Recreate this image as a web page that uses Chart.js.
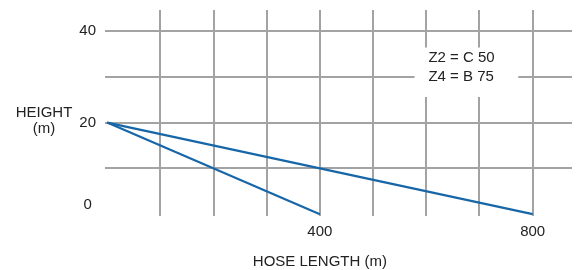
<!DOCTYPE html>
<html>
<head>
<meta charset="utf-8">
<script src="https://cdn.jsdelivr.net/npm/chart.js@4"></script>
<style>
  html, body { margin: 0; padding: 0; background: #fff; }
  #wrap { width: 576px; height: 270px; }
</style>
</head>
<body>
<div id="wrap"><canvas id="graph_1"></canvas></div>
<script>
// data
const hoseLengths = [0, 400, 800];
const heightZ2 = [20, 0];       // 0 -> 400 m
const heightZ4 = [20, 10, 0];   // 0 -> 400 -> 800 m
const yTickLabels = [0, 20, 40];
const xTickLabels = [400, 800];
const noteLines = ["Z2 = C 50", "Z4 = B 75"];

const FONT = "'Liberation Sans', Arial, sans-serif";
const GRID = "#a3a3a3";
const BLUE = "#1766a8";

const ctx = document.getElementById("graph_1");

// white box with the Z2/Z4 note + axis titles
const extras = {
  id: "extras",
  afterDraw(chart) {
    const c = chart.ctx;
    const x = chart.scales.x, y = chart.scales.y;
    c.save();
    // note box
    const bx = x.getPixelForValue(578), by = y.getPixelForValue(36.4);
    const bx2 = x.getPixelForValue(773), by2 = y.getPixelForValue(25.6);
    c.fillStyle = "#fff";
    c.fillRect(bx, by, bx2 - bx, by2 - by);
    c.fillStyle = "#222";
    c.font = "15px " + FONT;
    c.textAlign = "left";
    c.textBaseline = "middle";
    noteLines.forEach((t, i) => c.fillText(t, x.getPixelForValue(604), y.getPixelForValue(34.2) + i * 19));
    // y title
    c.textAlign = "center";
    c.fillText("HEIGHT", 44, 113);
    c.fillText("(m)", 44, 129);
    // x title
    c.fillText("HOSE LENGTH (m)", x.getPixelForValue(400), 262);
    c.restore();
  },
};

new Chart(ctx, {
  type: "line",
  data: {
    datasets: [
      {
        label: "Z2",
        data: heightZ2.map((v, i) => ({ x: hoseLengths[i], y: v })),
        borderColor: BLUE,
        borderWidth: 2.2,
        pointRadius: 0,
        fill: false,
      },
      {
        label: "Z4",
        data: heightZ4.map((v, i) => ({ x: hoseLengths[i], y: v })),
        borderColor: BLUE,
        borderWidth: 2.2,
        pointRadius: 0,
        fill: false,
      },
    ],
  },
  options: {
    responsive: true,
    maintainAspectRatio: false,
    animation: false,
    layout: { padding: { top: 10, right: 4, left: 0, bottom: 0 } },
    plugins: {
      legend: { display: false },
      tooltip: { enabled: false },
    },
    scales: {
      x: {
        type: "linear",
        min: -4,
        max: 874,
        afterBuildTicks: (s) => {
          s.ticks = [];
          for (let v = 100; v <= 800; v += 100) s.ticks.push({ value: v });
        },
        afterFit: (s) => { s.height = 54; s.paddingLeft = 0; s.paddingRight = 0; },
        border: { display: false },
        grid: {
          color: GRID,
          lineWidth: 2,
          drawTicks: false,
        },
        ticks: {
          autoSkip: false,
          maxRotation: 0,
          padding: 7,
          color: "#222",
          font: { size: 15, family: FONT },
          callback: (v) => (xTickLabels.includes(v) ? String(v) : ""),
        },
      },
      y: {
        type: "linear",
        min: -0.4,
        max: 44.6,
        afterBuildTicks: (s) => {
          s.ticks = [];
          for (let v = 0; v <= 40; v += 10) s.ticks.push({ value: v });
        },
        afterFit: (s) => { s.width = 105; s.paddingTop = 0; s.paddingBottom = 0; },
        border: { display: false },
        grid: {
          color: (c) => (c.tick && c.tick.value > 0 ? GRID : "rgba(0,0,0,0)"),
          lineWidth: 2,
          drawTicks: false,
        },
        ticks: {
          autoSkip: false,
          padding: 9,
          crossAlign: "center",
          color: "#222",
          font: { size: 15, family: FONT },
          callback: (v) => {
            if (!yTickLabels.includes(v)) return "";
            return v === 0 ? [String(v), ""] : String(v);
          },
        },
      },
    },
  },
  plugins: [extras],
});
</script>
</body>
</html>
